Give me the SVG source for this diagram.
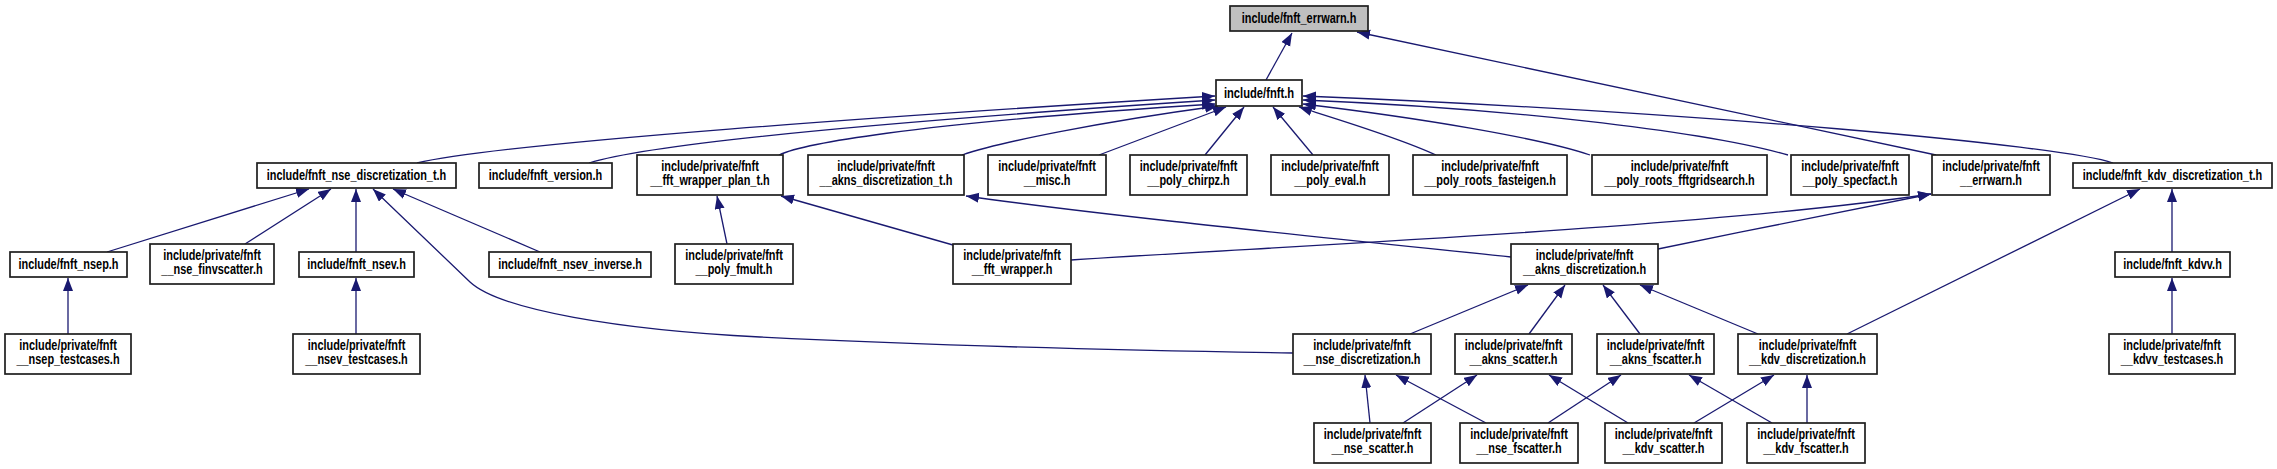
<svg xmlns="http://www.w3.org/2000/svg" width="2277" height="469" viewBox="0 0 2277 469">
<defs>
<marker id="ah" markerUnits="userSpaceOnUse" markerWidth="14" markerHeight="11" refX="13" refY="5" orient="auto">
<path d="M0,0 L13,5 L0,10 z" fill="#191970"/>
</marker>
<style>
rect.n{fill:#ffffff;stroke:#1e1e1e;stroke-width:1.7}
rect.r{fill:#bfbfbf;stroke:#1e1e1e;stroke-width:1.7}
text{font-family:"Liberation Sans",Arial,sans-serif;font-weight:bold;font-size:14px;text-anchor:middle;fill:#000}
#edges path{fill:none;stroke:#191970;stroke-width:1.3;marker-end:url(#ah)}
</style>
</defs>
<rect width="2277" height="469" fill="#ffffff"/>
<g id="edges">
<path d="M1266,80 L1292,33"/>
<path d="M1936,155 L1357,32"/>
<path d="M417,163 C500,143 900,115 1215,96"/>
<path d="M589,163 C630,150 760,130 1215,100"/>
<path d="M779,155 C800,145 900,124 1215,104"/>
<path d="M962,155 C1000,142 1100,122 1218,106"/>
<path d="M1099,155 L1226,107"/>
<path d="M1205,155 L1244,107"/>
<path d="M1313,155 L1273,107"/>
<path d="M1436,155 C1400,138 1340,120 1299,107"/>
<path d="M1590,155 C1540,138 1420,118 1303,104"/>
<path d="M1788,155 C1700,130 1500,108 1303,100"/>
<path d="M2113,163 C2060,145 1700,112 1303,96"/>
<path d="M1071,260 C1300,245 1700,228 1931,194"/>
<path d="M1658,249 C1750,230 1850,210 1931,194"/>
<path d="M1511,257 C1300,235 1100,215 966,196"/>
<path d="M727,244 L717,196"/>
<path d="M953,245 L781,196"/>
<path d="M107,252 L309,189"/>
<path d="M245,244 L331,189"/>
<path d="M356,252 L356,189"/>
<path d="M1293,353 C1100,350 900,344 760,337 C620,330 500,310 470,282 L373,189"/>
<path d="M540,252 L393,189"/>
<path d="M68,334 L68,278"/>
<path d="M356,334 L356,278"/>
<path d="M1847,334 L2140,189"/>
<path d="M2172,252 L2172,189"/>
<path d="M2172,334 L2172,278"/>
<path d="M1410,334 L1528,285"/>
<path d="M1529,334 L1565,285"/>
<path d="M1640,334 L1603,285"/>
<path d="M1758,334 L1640,285"/>
<path d="M1370,423 L1365,375"/>
<path d="M1486,423 L1396,375"/>
<path d="M1403,423 L1477,375"/>
<path d="M1628,423 L1549,375"/>
<path d="M1548,423 L1621,375"/>
<path d="M1772,423 L1689,375"/>
<path d="M1694,423 L1774,375"/>
<path d="M1807,423 L1807,375"/>
</g>
<g id="root"><rect class="r" x="1230" y="6" width="138" height="25"/><text transform="translate(1299,6) scale(.78,1)"><tspan x="0" y="17.5">include/fnft_errwarn.h</tspan></text></g>
<g id="fnft"><rect class="n" x="1216" y="80" width="86" height="26"/><text transform="translate(1259,80) scale(.8,1)"><tspan x="0" y="18">include/fnft.h</tspan></text></g>
<g id="nsedt"><rect class="n" x="257" y="163" width="199" height="25"/><text transform="translate(356.5,163) scale(.78,1)"><tspan x="0" y="17.5">include/fnft_nse_discretization_t.h</tspan></text></g>
<g id="ver"><rect class="n" x="479" y="163" width="133" height="25"/><text transform="translate(545.5,163) scale(.78,1)"><tspan x="0" y="17.5">include/fnft_version.h</tspan></text></g>
<g id="fwpt"><rect class="n" x="637" y="155" width="146" height="40"/><text transform="translate(710,155) scale(.78,1)"><tspan x="0" y="16">include/private/fnft</tspan><tspan x="0" y="30.5">__fft_wrapper_plan_t.h</tspan></text></g>
<g id="akdt"><rect class="n" x="808" y="155" width="156" height="40"/><text transform="translate(886,155) scale(.78,1)"><tspan x="0" y="16">include/private/fnft</tspan><tspan x="0" y="30.5">__akns_discretization_t.h</tspan></text></g>
<g id="misc"><rect class="n" x="988" y="155" width="118" height="40"/><text transform="translate(1047,155) scale(.78,1)"><tspan x="0" y="16">include/private/fnft</tspan><tspan x="0" y="30.5">__misc.h</tspan></text></g>
<g id="chirpz"><rect class="n" x="1130" y="155" width="117" height="40"/><text transform="translate(1188.5,155) scale(.78,1)"><tspan x="0" y="16">include/private/fnft</tspan><tspan x="0" y="30.5">__poly_chirpz.h</tspan></text></g>
<g id="peval"><rect class="n" x="1271" y="155" width="118" height="40"/><text transform="translate(1330,155) scale(.78,1)"><tspan x="0" y="16">include/private/fnft</tspan><tspan x="0" y="30.5">__poly_eval.h</tspan></text></g>
<g id="fasteig"><rect class="n" x="1413" y="155" width="154" height="40"/><text transform="translate(1490,155) scale(.78,1)"><tspan x="0" y="16">include/private/fnft</tspan><tspan x="0" y="30.5">__poly_roots_fasteigen.h</tspan></text></g>
<g id="fftgs"><rect class="n" x="1592" y="155" width="175" height="40"/><text transform="translate(1679.5,155) scale(.78,1)"><tspan x="0" y="16">include/private/fnft</tspan><tspan x="0" y="30.5">__poly_roots_fftgridsearch.h</tspan></text></g>
<g id="specf"><rect class="n" x="1791" y="155" width="118" height="40"/><text transform="translate(1850,155) scale(.78,1)"><tspan x="0" y="16">include/private/fnft</tspan><tspan x="0" y="30.5">__poly_specfact.h</tspan></text></g>
<g id="perr"><rect class="n" x="1932" y="155" width="118" height="40"/><text transform="translate(1991,155) scale(.78,1)"><tspan x="0" y="16">include/private/fnft</tspan><tspan x="0" y="30.5">__errwarn.h</tspan></text></g>
<g id="kdvdt"><rect class="n" x="2073" y="163" width="199" height="25"/><text transform="translate(2172.5,163) scale(.78,1)"><tspan x="0" y="17.5">include/fnft_kdv_discretization_t.h</tspan></text></g>
<g id="nsep"><rect class="n" x="10" y="252" width="117" height="25"/><text transform="translate(68.5,252) scale(.78,1)"><tspan x="0" y="17.5">include/fnft_nsep.h</tspan></text></g>
<g id="finv"><rect class="n" x="150" y="244" width="124" height="40"/><text transform="translate(212,244) scale(.78,1)"><tspan x="0" y="16">include/private/fnft</tspan><tspan x="0" y="30.5">__nse_finvscatter.h</tspan></text></g>
<g id="nsev"><rect class="n" x="299" y="252" width="115" height="25"/><text transform="translate(356.5,252) scale(.78,1)"><tspan x="0" y="17.5">include/fnft_nsev.h</tspan></text></g>
<g id="nsevinv"><rect class="n" x="489" y="252" width="162" height="25"/><text transform="translate(570,252) scale(.78,1)"><tspan x="0" y="17.5">include/fnft_nsev_inverse.h</tspan></text></g>
<g id="fmult"><rect class="n" x="675" y="244" width="118" height="40"/><text transform="translate(734,244) scale(.78,1)"><tspan x="0" y="16">include/private/fnft</tspan><tspan x="0" y="30.5">__poly_fmult.h</tspan></text></g>
<g id="fw"><rect class="n" x="953" y="244" width="118" height="40"/><text transform="translate(1012,244) scale(.78,1)"><tspan x="0" y="16">include/private/fnft</tspan><tspan x="0" y="30.5">__fft_wrapper.h</tspan></text></g>
<g id="akd"><rect class="n" x="1511" y="244" width="147" height="40"/><text transform="translate(1584.5,244) scale(.78,1)"><tspan x="0" y="16">include/private/fnft</tspan><tspan x="0" y="30.5">__akns_discretization.h</tspan></text></g>
<g id="kdvv"><rect class="n" x="2115" y="252" width="115" height="25"/><text transform="translate(2172.5,252) scale(.78,1)"><tspan x="0" y="17.5">include/fnft_kdvv.h</tspan></text></g>
<g id="nsept"><rect class="n" x="5" y="334" width="126" height="40"/><text transform="translate(68,334) scale(.78,1)"><tspan x="0" y="16">include/private/fnft</tspan><tspan x="0" y="30.5">__nsep_testcases.h</tspan></text></g>
<g id="nsevt"><rect class="n" x="293" y="334" width="127" height="40"/><text transform="translate(356.5,334) scale(.78,1)"><tspan x="0" y="16">include/private/fnft</tspan><tspan x="0" y="30.5">__nsev_testcases.h</tspan></text></g>
<g id="nsed"><rect class="n" x="1293" y="334" width="138" height="40"/><text transform="translate(1362,334) scale(.78,1)"><tspan x="0" y="16">include/private/fnft</tspan><tspan x="0" y="30.5">__nse_discretization.h</tspan></text></g>
<g id="aksc"><rect class="n" x="1455" y="334" width="117" height="40"/><text transform="translate(1513.5,334) scale(.78,1)"><tspan x="0" y="16">include/private/fnft</tspan><tspan x="0" y="30.5">__akns_scatter.h</tspan></text></g>
<g id="akfs"><rect class="n" x="1597" y="334" width="117" height="40"/><text transform="translate(1655.5,334) scale(.78,1)"><tspan x="0" y="16">include/private/fnft</tspan><tspan x="0" y="30.5">__akns_fscatter.h</tspan></text></g>
<g id="kdvd"><rect class="n" x="1738" y="334" width="139" height="40"/><text transform="translate(1807.5,334) scale(.78,1)"><tspan x="0" y="16">include/private/fnft</tspan><tspan x="0" y="30.5">__kdv_discretization.h</tspan></text></g>
<g id="kdvvt"><rect class="n" x="2109" y="334" width="126" height="40"/><text transform="translate(2172,334) scale(.78,1)"><tspan x="0" y="16">include/private/fnft</tspan><tspan x="0" y="30.5">__kdvv_testcases.h</tspan></text></g>
<g id="nses"><rect class="n" x="1314" y="423" width="117" height="40"/><text transform="translate(1372.5,423) scale(.78,1)"><tspan x="0" y="16">include/private/fnft</tspan><tspan x="0" y="30.5">__nse_scatter.h</tspan></text></g>
<g id="nsefs"><rect class="n" x="1460" y="423" width="118" height="40"/><text transform="translate(1519,423) scale(.78,1)"><tspan x="0" y="16">include/private/fnft</tspan><tspan x="0" y="30.5">__nse_fscatter.h</tspan></text></g>
<g id="kdvs"><rect class="n" x="1605" y="423" width="117" height="40"/><text transform="translate(1663.5,423) scale(.78,1)"><tspan x="0" y="16">include/private/fnft</tspan><tspan x="0" y="30.5">__kdv_scatter.h</tspan></text></g>
<g id="kdvfs"><rect class="n" x="1747" y="423" width="118" height="40"/><text transform="translate(1806,423) scale(.78,1)"><tspan x="0" y="16">include/private/fnft</tspan><tspan x="0" y="30.5">__kdv_fscatter.h</tspan></text></g>
</svg>
